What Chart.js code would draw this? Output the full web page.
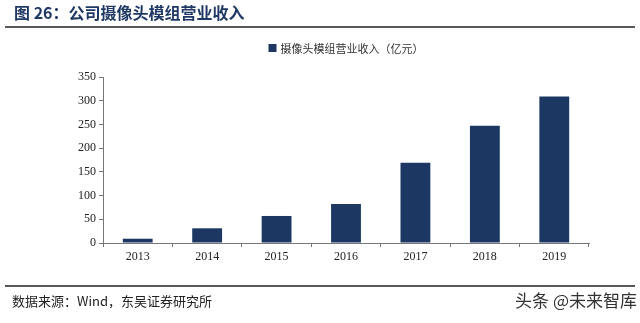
<!DOCTYPE html>
<html>
<head>
<meta charset="utf-8">
<script src="https://cdn.jsdelivr.net/npm/chart.js@4/dist/chart.umd.min.js"></script>
<style>
  html, body { margin: 0; padding: 0; background: #fff; }
  #wrap { position: relative; width: 640px; height: 323px; }
</style>
</head>
<body>
<div id="wrap"><canvas id="revenueChart" width="640" height="323"></canvas></div>
<script>
// 公司摄像头模组营业收入（亿元）
const years = ["2013", "2014", "2015", "2016", "2017", "2018", "2019"];
const revenue = [9, 31, 57, 82, 169, 247, 309];
const yTicks = [0, 50, 100, 150, 200, 250, 300, 350];

const navy = "#1c3862";
const cjk = "'Noto Sans CJK SC', 'Noto Sans', sans-serif";
const serif = "'Liberation Serif', 'DejaVu Serif', serif";

// 标题、分隔线、资料来源
const frame = {
    id: "frame",
    afterDraw(chart) {
        const ctx = chart.ctx;
        ctx.save();
        ctx.fillStyle = "#1f3864";
        ctx.font = "bold 16px " + cjk;
        ctx.textBaseline = "middle";
        ctx.fillText("图 26：公司摄像头模组营业收入", 14, 13);

        ctx.strokeStyle = "#222";
        ctx.lineWidth = 1.5;
        ctx.beginPath();
        ctx.moveTo(5, 27); ctx.lineTo(635, 27);
        ctx.moveTo(5, 286); ctx.lineTo(635, 286);
        ctx.stroke();

        ctx.fillStyle = "#222";
        ctx.font = "13px " + cjk;
        ctx.fillText("数据来源：Wind，东吴证券研究所", 12, 301);

        ctx.fillStyle = "#333";
        ctx.font = "17px " + cjk;
        ctx.textAlign = "right";
        ctx.fillText("头条 @未来智库", 637, 301);
        ctx.restore();
    }
};

// 图例
const legendBox = {
    id: "legendBox",
    afterDraw(chart) {
        const ctx = chart.ctx;
        const label = chart.data.datasets[0].label;
        ctx.save();
        ctx.font = "11px " + cjk;
        ctx.textBaseline = "middle";
        const w = ctx.measureText(label).width;
        const x = 346 - (w + 12) / 2;
        ctx.fillStyle = navy;
        ctx.fillRect(x, 44, 8, 8);
        ctx.fillStyle = "#333";
        ctx.fillText(label, x + 12, 48.5);
        ctx.restore();
    }
};

new Chart(document.getElementById("revenueChart"), {
    type: "bar",
    data: {
        labels: years,
        datasets: [
            {
                label: "摄像头模组营业收入（亿元）",
                data: revenue,
                backgroundColor: navy,
                borderWidth: 0,
                categoryPercentage: 0.86,
                barPercentage: 0.5,
            },
        ],
    },
    options: {
        responsive: false,
        animation: false,
        layout: { padding: { left: 0, right: 51, top: 77, bottom: 60 } },
        plugins: {
            legend: { display: false },
            tooltip: { enabled: false },
        },
        scales: {
            x: {
                offset: true,
                grid: {
                    offset: true,
                    drawOnChartArea: false,
                    tickLength: 4,
                    color: "#777",
                },
                border: { color: "#777", width: 1 },
                ticks: {
                    color: "#222",
                    font: { family: serif, size: 12 },
                    padding: 3,
                },
                afterFit(scale) { scale.height = 20; },
            },
            y: {
                min: 0,
                max: 350,
                afterBuildTicks(scale) {
                    scale.ticks = yTicks.map((v) => ({ value: v }));
                },
                grid: {
                    drawOnChartArea: false,
                    tickLength: 4,
                    color: "#777",
                },
                border: { color: "#777", width: 1 },
                ticks: {
                    color: "#222",
                    font: { family: serif, size: 12 },
                    padding: 3,
                },
                afterFit(scale) { scale.width = 103; },
            },
        },
    },
    plugins: [frame, legendBox],
});
</script>
</body>
</html>
